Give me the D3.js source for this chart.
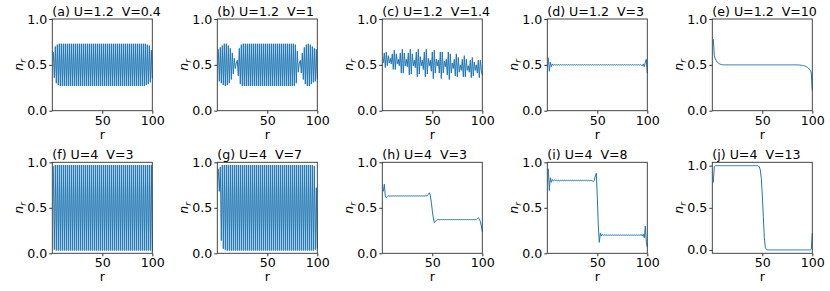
<!DOCTYPE html>
<html>
<head>
<meta charset="utf-8">
<script src="https://cdn.jsdelivr.net/npm/d3@7"></script>
<style>
body { margin: 0; background: #fff; }
svg { display: block; font-family: "DejaVu Sans", sans-serif; }
</style>
</head>
<body>
<svg id="chart" width="830" height="291"></svg>
<script>
// panel labels and parameters
const panelLetters = ["a", "b", "c", "d", "e", "f", "g", "h", "i", "j"];
const uValues = [1.2, 1.2, 1.2, 1.2, 1.2, 4, 4, 4, 4, 4];
const vValues = [0.4, 1, 1.4, 3, 10, 3, 7, 3, 8, 13];
const xTicks = [50, 100];
const yTicks = [0, 0.5, 1];

// n_r for r = 1..100
const nA = [
  .64,.36,.70,.30,.72,.28,.73,.27,.73,.27,
  .73,.27,.73,.27,.73,.27,.73,.27,.73,.27,
  .73,.27,.73,.27,.73,.27,.73,.27,.73,.27,
  .73,.27,.73,.27,.73,.27,.73,.27,.73,.27,
  .73,.27,.73,.27,.73,.27,.73,.27,.73,.27,
  .73,.27,.73,.27,.73,.27,.73,.27,.73,.27,
  .73,.27,.73,.27,.73,.27,.73,.27,.73,.27,
  .73,.27,.73,.27,.73,.27,.73,.27,.73,.27,
  .73,.27,.73,.27,.73,.27,.73,.27,.73,.27,
  .73,.27,.73,.28,.72,.29,.71,.31,.66,.35
];
const nB = [
  .67,.32,.69,.30,.71,.28,.73,.27,.73,.28,
  .71,.30,.68,.34,.63,.40,.57,.46,.52,.55,
  .38,.68,.29,.72,.27,.73,.27,.73,.27,.73,
  .27,.73,.27,.73,.27,.73,.27,.73,.27,.73,
  .27,.73,.27,.73,.27,.73,.27,.73,.27,.73,
  .27,.73,.27,.73,.27,.73,.27,.73,.27,.73,
  .27,.73,.27,.73,.27,.73,.27,.73,.27,.73,
  .27,.73,.27,.73,.27,.73,.27,.72,.30,.65,
  .42,.52,.55,.41,.63,.34,.69,.29,.72,.27,
  .73,.27,.72,.29,.70,.31,.68,.32,.67,.34
];
const nC = [
  .52,.63,.47,.64,.49,.60,.52,.57,.51,.62,
  .45,.66,.45,.62,.51,.56,.49,.63,.41,.67,
  .41,.63,.49,.56,.48,.63,.39,.67,.40,.62,
  .49,.55,.47,.64,.37,.67,.40,.59,.49,.55,
  .45,.64,.37,.67,.40,.57,.49,.55,.43,.64,
  .35,.66,.41,.56,.49,.55,.41,.64,.35,.64,
  .41,.54,.48,.56,.39,.64,.34,.62,.41,.52,
  .46,.56,.38,.62,.37,.58,.42,.50,.44,.56,
  .37,.60,.37,.56,.44,.49,.42,.55,.36,.58,
  .38,.53,.44,.50,.41,.55,.36,.55,.44,.39
];
const nD = [
  .58,.43,.53,.48,.51,.495,.505,.497,.503,.497,
  .503,.497,.503,.497,.503,.497,.503,.497,.503,.497,
  .503,.497,.503,.497,.503,.497,.503,.497,.503,.497,
  .503,.497,.503,.497,.503,.497,.503,.497,.503,.497,
  .503,.497,.503,.497,.503,.497,.503,.497,.503,.497,
  .503,.497,.503,.497,.503,.497,.503,.497,.503,.497,
  .503,.497,.503,.497,.503,.497,.503,.497,.503,.497,
  .503,.497,.503,.497,.503,.497,.503,.497,.503,.497,
  .503,.497,.503,.497,.503,.497,.503,.497,.503,.497,
  .503,.497,.503,.497,.49,.51,.48,.53,.56,.41
];
const nE = [
  .78,.60,.565,.545,.53,.52,.512,.507,.504,.502,
  .501,.50,.50,.50,.50,.50,.50,.50,.50,.50,
  .50,.50,.50,.50,.50,.50,.50,.50,.50,.50,
  .50,.50,.50,.50,.50,.50,.50,.50,.50,.50,
  .50,.50,.50,.50,.50,.50,.50,.50,.50,.50,
  .50,.50,.50,.50,.50,.50,.50,.50,.50,.50,
  .50,.50,.50,.50,.50,.50,.50,.50,.50,.50,
  .50,.50,.50,.50,.50,.50,.50,.50,.50,.50,
  .50,.50,.50,.50,.50,.499,.498,.497,.496,.494,
  .492,.489,.485,.48,.474,.466,.455,.44,.41,.22
];
const nF = [
  .96,.04,.97,.03,.97,.03,.97,.03,.97,.03,
  .97,.03,.97,.03,.97,.03,.97,.03,.97,.03,
  .97,.03,.97,.03,.97,.03,.97,.03,.97,.03,
  .97,.03,.97,.03,.97,.03,.97,.03,.97,.03,
  .97,.03,.97,.03,.97,.03,.97,.03,.97,.03,
  .97,.03,.97,.03,.97,.03,.97,.03,.97,.03,
  .97,.03,.97,.03,.97,.03,.97,.03,.97,.03,
  .97,.03,.97,.03,.97,.03,.97,.03,.97,.03,
  .97,.03,.97,.03,.97,.03,.97,.03,.97,.03,
  .97,.03,.97,.03,.97,.03,.97,.03,.97,.03
];
const nG = [
  .93,.68,.95,.14,.97,.05,.97,.04,.97,.03,
  .97,.03,.97,.03,.97,.03,.97,.03,.97,.03,
  .97,.03,.97,.03,.97,.03,.97,.03,.97,.03,
  .97,.03,.97,.03,.97,.03,.97,.03,.97,.03,
  .97,.03,.97,.03,.97,.03,.97,.03,.97,.03,
  .97,.03,.97,.03,.97,.03,.97,.03,.97,.03,
  .97,.03,.97,.03,.97,.03,.97,.03,.97,.03,
  .97,.03,.97,.03,.97,.03,.97,.03,.97,.03,
  .97,.03,.97,.03,.97,.03,.97,.03,.97,.03,
  .97,.03,.97,.03,.97,.03,.96,.04,.72,.05
];
const nH = [
  .68,.76,.63,.61,.625,.632,.628,.631,.629,.63,
  .631,.629,.631,.629,.631,.629,.631,.629,.631,.629,
  .631,.629,.631,.629,.631,.629,.631,.629,.631,.629,
  .631,.629,.631,.629,.631,.629,.631,.629,.631,.629,
  .631,.629,.631,.632,.635,.645,.665,.64,.56,.47,
  .39,.335,.345,.36,.37,.371,.369,.37,.371,.369,
  .371,.369,.371,.369,.371,.369,.371,.369,.371,.369,
  .371,.369,.371,.369,.371,.369,.371,.369,.371,.369,
  .371,.369,.371,.369,.371,.369,.371,.369,.371,.369,
  .371,.369,.371,.372,.378,.39,.38,.35,.30,.24
];
const nI = [
  .93,.69,.83,.78,.81,.795,.805,.80,.803,.797,
  .803,.797,.803,.797,.803,.797,.803,.797,.803,.797,
  .803,.797,.803,.797,.803,.797,.803,.797,.803,.797,
  .803,.797,.803,.797,.803,.797,.803,.797,.803,.797,
  .803,.797,.80,.80,.795,.79,.80,.85,.88,.62,
  .30,.12,.22,.19,.21,.195,.205,.198,.202,.198,
  .202,.198,.202,.198,.202,.198,.202,.198,.202,.198,
  .202,.198,.202,.198,.202,.198,.202,.198,.202,.198,
  .202,.198,.202,.198,.202,.198,.202,.198,.202,.198,
  .202,.198,.20,.205,.19,.21,.17,.30,.12,.07
];
const nJ = [
  .80,.99,1,1,1,1,1,1,1,1,
  1,1,1,1,1,1,1,1,1,1,
  1,1,1,1,1,1,1,1,1,1,
  1,1,1,1,1,1,1,1,1,1,
  1,1,1,1,1,.998,.985,.95,.85,.65,
  .40,.15,.03,.005,0,0,0,0,0,0,
  0,0,0,0,0,0,0,0,0,0,
  0,0,0,0,0,0,0,0,0,0,
  0,0,0,0,0,0,0,0,0,0,
  0,0,0,0,0,0,0,0,.01,.2
];
const series = [nA, nB, nC, nD, nE, nF, nG, nH, nI, nJ];

const svg = d3.select("#chart");
const colLeft = [52.3, 217.3, 382.3, 547.3, 712.3];
const rowTop = [19, 162.3];
const rowHeight = [91.7, 91];
const W = 100;
const fontSize = 12.6;

series.forEach((vals, i) => {
    const row = Math.floor(i / 5), col = i % 5;
    const h = rowHeight[row];
    const g = svg.append("g")
        .attr("transform", `translate(${colLeft[col]},${rowTop[row]})`);

    const x = d3.scaleLinear().domain([0, 100]).range([0, W]);
    const y = d3.scaleLinear()
        .domain(i === 9 ? [-0.04, 1.04] : [0, 1])
        .range([h, 0]);

    const line = d3.line()
        .x((d, k) => x(k + 1))
        .y(d => y(d));

    g.append("path")
        .datum(vals)
        .attr("d", line)
        .attr("fill", "none")
        .attr("stroke", "#1f77b4")
        .attr("stroke-width", 1.0)
        .attr("stroke-linejoin", "round");

    const xAxis = g.append("g")
        .attr("transform", `translate(0,${h})`)
        .call(d3.axisBottom(x).tickValues(xTicks).tickSize(3).tickPadding(2).tickSizeOuter(0));
    const yAxis = g.append("g")
        .call(d3.axisLeft(y).tickValues(yTicks).tickFormat(d3.format(".1f"))
            .tickSize(3).tickPadding(2).tickSizeOuter(0));
    [xAxis, yAxis].forEach(a => {
        a.attr("font-family", "DejaVu Sans").attr("font-size", fontSize).attr("color", "#333");
        a.select(".domain").remove();
        a.selectAll("text").attr("fill", "#000");
    });

    // frame
    g.append("rect")
        .attr("width", W)
        .attr("height", h)
        .attr("fill", "none")
        .attr("stroke", "#333")
        .attr("stroke-width", 0.9);

    g.append("text")
        .attr("x", 0)
        .attr("y", -3.3)
        .attr("font-size", fontSize)
        .style("white-space", "pre")
        .text(`(${panelLetters[i]}) U=${uValues[i]}  V=${vValues[i]}`);

    g.append("text")
        .attr("x", W / 2)
        .attr("y", h + 28)
        .attr("text-anchor", "middle")
        .attr("font-size", fontSize)
        .text("r");

    const yl = g.append("text")
        .attr("transform", `translate(-29,${h / 2}) rotate(-90)`)
        .attr("text-anchor", "middle")
        .attr("font-size", fontSize)
        .attr("font-style", "italic");
    yl.append("tspan").text("n");
    yl.append("tspan").attr("dy", 3).attr("font-size", 9).text("r");
});
</script>
</body>
</html>
